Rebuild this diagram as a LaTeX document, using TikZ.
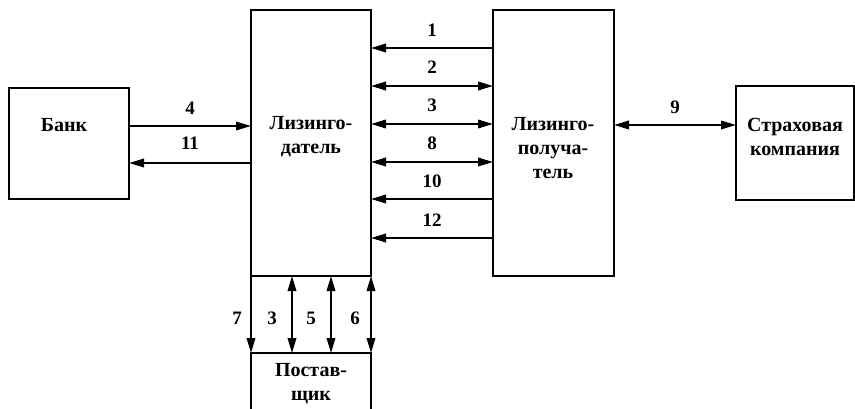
\documentclass[tikz,border=0pt]{standalone}
\usepackage{fontspec}
\setmainfont{Liberation Serif}
\usetikzlibrary{arrows.meta}
\begin{document}
\begin{tikzpicture}[x=1pt,y=-1pt,
  box/.style={draw,line width=1.4pt,rectangle,inner sep=0pt,outer sep=0pt},
  txt/.style={font=\fontsize{20}{24}\selectfont\bfseries,align=center,inner sep=0pt},
  num/.style={font=\fontsize{19}{20}\selectfont\bfseries,inner sep=0pt},
  con/.style={line width=1.9pt},
  tip/.style={-{Triangle[length=15pt,width=8.5pt]}},
  tips/.style={{Triangle[length=15pt,width=8.5pt]}-{Triangle[length=15pt,width=8.5pt]}}]
\clip (0,0) rectangle (855,409);
\fill[white] (0,0) rectangle (855,409);
% boxes
\node[box,minimum width=120pt,minimum height=111pt] (bank) at (69,143.5) {};
\node[box,minimum width=120pt,minimum height=266pt] (lessor) at (311,143) {};
\node[box,minimum width=121pt,minimum height=266pt] (lessee) at (553.5,143) {};
\node[box,minimum width=118pt,minimum height=114pt] (ins) at (795,143) {};
\node[box,minimum width=120pt,minimum height=90pt] (supp) at (311,398) {};
% texts
\node[txt] (tbank) at (64,125) {Банк};
\node[txt] (tlessor) at (311,137) {Лизинго-\\датель};
\node[txt] (tlessee) at (553,148) {Лизинго-\\получа-\\тель};
\node[txt] (tins) at (795,137) {Страховая\\компания};
\node[txt] (tsupp) at (311,384) {Постав-\\щик};
% bank <-> lessor
\draw[con,tip] (bank.east |- 0,126) -- (lessor.west |- 0,126);
\draw[con,tip] (lessor.west |- 0,163) -- (bank.east |- 0,163);
\node[num] (n4) at (190,108) {4};
\node[num] (n11) at (190,143) {11};
% lessee -> lessor
\draw[con,tip] (lessee.west |- 0,48) -- (lessor.east |- 0,48);
\draw[con,tips] (lessee.west |- 0,86) -- (lessor.east |- 0,86);
\draw[con,tips] (lessee.west |- 0,124) -- (lessor.east |- 0,124);
\draw[con,tips] (lessee.west |- 0,162) -- (lessor.east |- 0,162);
\draw[con,tip] (lessee.west |- 0,199) -- (lessor.east |- 0,199);
\draw[con,tip] (lessee.west |- 0,238) -- (lessor.east |- 0,238);
\node[num] (n1) at (432,30) {1};
\node[num] (n2) at (432,67) {2};
\node[num] (n3) at (432,105) {3};
\node[num] (n8) at (432,143) {8};
\node[num] (n10) at (432,181) {10};
\node[num] (n12) at (432,220) {12};
% lessee <-> insurance
\draw[con,tips] (lessee.east |- 0,125) -- (ins.west |- 0,125);
\node[num] (n9) at (675,107) {9};
% lessor <-> supplier
\draw[con,tip] (lessor.south west) -- (supp.north west);
\draw[con,tips] (lessor.south -| 292,0) -- (supp.north -| 292,0);
\draw[con,tips] (lessor.south -| 331,0) -- (supp.north -| 331,0);
\draw[con,tips] (lessor.south east) -- (supp.north east);
\node[num] (n7) at (237,318) {7};
\node[num] (n3b) at (272,318) {3};
\node[num] (n5) at (311,318) {5};
\node[num] (n6) at (355,318) {6};
\end{tikzpicture}
\end{document}
